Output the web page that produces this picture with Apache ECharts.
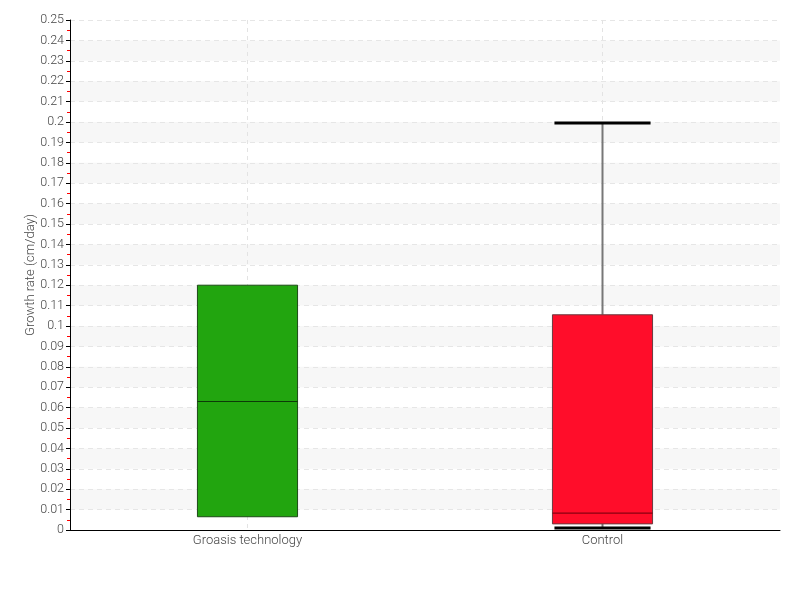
<!DOCTYPE html>
<html>
<head>
<meta charset="utf-8">
<script src="https://cdn.jsdelivr.net/npm/echarts@6/dist/echarts.min.js"></script>
<style>html,body{margin:0;padding:0;background:#fff}#c{width:800px;height:600px}</style>
</head>
<body>
<div id="c"></div>
<script>
var categories = ['Groasis technology', 'Control'];
var mins    = [0.0065, 0.001];
var q1s     = [0.0065, 0.003];
var medians = [0.063, 0.0083];
var q3s     = [0.12, 0.1055];
var maxs    = [0.12, 0.1995];
var fills   = ['#22a50f', '#ff0d2a'];
var strokes = ['#1d4a17', '#6b3a3f'];

var FONT = 'Roboto, sans-serif';

var data = categories.map(function (c, i) {
  return [i, mins[i], q1s[i], medians[i], q3s[i], maxs[i]];
});

function renderItem(params, api) {
  var i = api.value(0);
  var pMin = api.coord([i, api.value(1)]);
  var pQ1 = api.coord([i, api.value(2)]);
  var pMed = api.coord([i, api.value(3)]);
  var pQ3 = api.coord([i, api.value(4)]);
  var pMax = api.coord([i, api.value(5)]);
  var bw = api.size([1, 0])[0] * 0.282;
  var cw = bw * 0.96;
  var x = pQ1[0];
  var children = [];
  if (api.value(5) > api.value(4)) {
    children.push({type: 'line', shape: {x1: x, y1: pQ3[1], x2: x, y2: pMax[1]}, style: {stroke: '#777', lineWidth: 2}});
    children.push({type: 'line', shape: {x1: x - cw / 2, y1: pMax[1], x2: x + cw / 2, y2: pMax[1]}, style: {stroke: '#000', lineWidth: 3}});
  }
  if (api.value(1) < api.value(2)) {
    children.push({type: 'line', shape: {x1: x, y1: pQ1[1], x2: x, y2: pMin[1]}, style: {stroke: '#777', lineWidth: 2}});
    children.push({type: 'line', shape: {x1: x - cw / 2, y1: pMin[1], x2: x + cw / 2, y2: pMin[1]}, style: {stroke: '#000', lineWidth: 3}});
  }
  children.push({type: 'rect', shape: {x: x - bw / 2, y: pQ3[1], width: bw, height: pQ1[1] - pQ3[1]},
    style: {fill: fills[i], stroke: strokes[i], lineWidth: 1}});
  children.push({type: 'line', shape: {x1: x - bw / 2, y1: pMed[1], x2: x + bw / 2, y2: pMed[1]},
    style: {stroke: i === 0 ? '#0d3a08' : '#8a0010', lineWidth: 1.2}});
  return {type: 'group', children: children};
}

var chart = echarts.init(document.getElementById('c'));
chart.setOption({
  animation: false,
  backgroundColor: '#fff',
  grid: {left: 70, right: 20, top: 20, bottom: 70},
  xAxis: {
    type: 'category',
    data: categories,
    boundaryGap: true,
    axisLine: {lineStyle: {color: '#000', width: 1}},
    axisTick: {show: false, alignWithLabel: true},
    axisLabel: {color: '#444', fontFamily: FONT, fontWeight: 300, fontSize: 13, margin: 4},
    splitLine: {show: true, alignWithLabel: true, lineStyle: {color: '#e3e3e3', type: [4, 4], width: 1}}
  },
  yAxis: {
    type: 'value',
    min: 0, max: 0.25, interval: 0.01,
    name: 'Growth rate (cm/day)',
    nameLocation: 'middle',
    nameGap: 33,
    nameMoveOverlap: false,
    nameTextStyle: {color: '#444', fontFamily: FONT, fontWeight: 300, fontSize: 13},
    axisLine: {show: true, lineStyle: {color: '#000', width: 1}},
    axisTick: {show: true, length: 4, lineStyle: {color: '#000'}},
    minorTick: {show: true, splitNumber: 2, length: 3, lineStyle: {color: '#ff0000', width: 1}},
    axisLabel: {color: '#444', fontFamily: FONT, fontWeight: 300, fontSize: 12.5, margin: 6},
    splitLine: {show: true, lineStyle: {color: '#e6e6e6', type: [5, 4], width: 1}},
    splitArea: {show: true, areaStyle: {color: ['rgba(255,255,255,0)', '#f7f7f7']}}
  },
  series: [{
    type: 'custom',
    renderItem: renderItem,
    data: data,
    encode: {x: 0, y: [1, 2, 3, 4, 5]},
    z: 5
  }]
});
</script>
</body>
</html>
